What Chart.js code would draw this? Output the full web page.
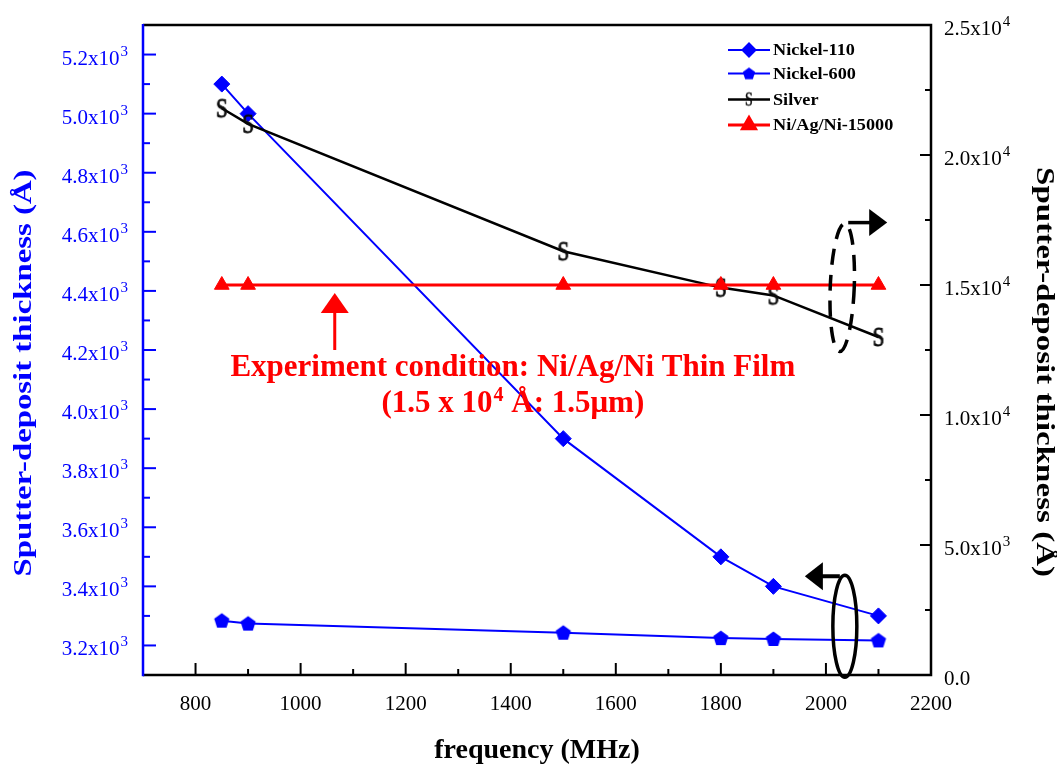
<!DOCTYPE html>
<html><head><meta charset="utf-8">
<script src="https://cdn.jsdelivr.net/npm/chart.js@4.4.1/dist/chart.umd.min.js"></script>
<style>html,body{margin:0;padding:0;background:#fff}#wrap{width:1057px;height:769px;position:relative}</style>
</head><body><div id="wrap"><canvas id="c"></canvas></div>
<script>
// ---- data ----
const frequencies = [850, 900, 1500, 1800, 1900, 2100];
const nickel110 = [5100, 5000, 3900, 3500, 3400, 3300];
const nickel600 = [3284, 3274, 3243, 3225, 3222, 3217];
const silver = [21800, 21200, 16300, 14900, 14600, 13000];
const niAgNi15000 = [15000, 15000, 15000, 15000, 15000, 15000];
const seriesNames = ['Nickel-110', 'Nickel-600', 'Silver', 'Ni/Ag/Ni-15000'];

const xTicks = [800, 1000, 1200, 1400, 1600, 1800, 2000, 2200];
const xTickLabels = ['800', '1000', '1200', '1400', '1600', '1800', '2000', '2200'];
const xMinorTicks = [900, 1100, 1300, 1500, 1700, 1900, 2100];
const leftTicks = [3200, 3400, 3600, 3800, 4000, 4200, 4400, 4600, 4800, 5000, 5200];
const leftTickLabels = ['3.2x10^3', '3.4x10^3', '3.6x10^3', '3.8x10^3', '4.0x10^3', '4.2x10^3', '4.4x10^3', '4.6x10^3', '4.8x10^3', '5.0x10^3', '5.2x10^3'];
const leftMinorTicks = [3300, 3500, 3700, 3900, 4100, 4300, 4500, 4700, 4900, 5100];
const rightTicks = [0, 5000, 10000, 15000, 20000, 25000];
const rightTickLabels = ['0.0', '5.0x10^3', '1.0x10^4', '1.5x10^4', '2.0x10^4', '2.5x10^4'];
const rightMinorTicks = [2500, 7500, 12500, 17500, 22500];
const xTitle = 'frequency (MHz)';
const yTitle = 'Sputter-deposit thickness (Å)';
const noteLine1 = 'Experiment condition: Ni/Ag/Ni Thin Film';
const noteLine2 = '(1.5 x 10^4^ Å: 1.5μm)';

const BLUE = '#0000ff', RED = '#ff0000', BLACK = '#000000';
const SERIF = '"Liberation Serif", "Times New Roman", serif';

// ---- marker images ----
function makeS(fontPx, sy, w, h, sw) {
  const c = document.createElement('canvas'); c.width = w; c.height = h;
  const g = c.getContext('2d');
  g.fillStyle = '#0a0a0a'; g.strokeStyle = '#0a0a0a'; g.lineWidth = sw;
  g.font = fontPx + 'px ' + SERIF;
  g.textAlign = 'center'; g.textBaseline = 'middle';
  g.translate(w / 2, h / 2); g.scale(1, sy); g.fillText('S', 0, 1); g.strokeText('S', 0, 1);
  return c;
}
function makePentagon(r, size) {
  const c = document.createElement('canvas'); c.width = size; c.height = size;
  const g = c.getContext('2d'); g.fillStyle = BLUE; g.beginPath();
  for (let i = 0; i < 5; i++) {
    const a = -Math.PI / 2 + i * 2 * Math.PI / 5;
    const px = size / 2 + r * Math.cos(a), py = size / 2 + 0.5 + r * Math.sin(a);
    i ? g.lineTo(px, py) : g.moveTo(px, py);
  }
  g.closePath(); g.fill(); return c;
}
const sMarker = makeS(21, 1.35, 18, 32, 0.7);
const sMarkerSmall = makeS(14, 1.3, 14, 22, 0.4);
const pentMarker = makePentagon(8, 20);
const pentMarkerSmall = makePentagon(6.5, 16);

const pts = arr => frequencies.map((f, i) => ({ x: f, y: arr[i] }));

const datasets = [
  { label: seriesNames[3], data: pts(niAgNi15000), yAxisID: 'yR', borderColor: RED, backgroundColor: RED,
    borderWidth: 3, pointStyle: 'triangle', pointRadius: 8.5, pointBorderWidth: 1, order: 1, legendStyle: 'triangle', legendRadius: 7.5 },
  { label: seriesNames[2], data: pts(silver), yAxisID: 'yR', borderColor: BLACK, backgroundColor: BLACK,
    borderWidth: 2.5, pointStyle: sMarker, pointRadius: 8, order: 2, legendStyle: sMarkerSmall },
  { label: seriesNames[0], data: pts(nickel110), yAxisID: 'yL', borderColor: BLUE, backgroundColor: BLUE,
    borderWidth: 2, pointStyle: 'rectRot', pointRadius: 8, pointBorderWidth: 1, order: 3, legendStyle: 'rectRot', legendRadius: 6.5 },
  { label: seriesNames[1], data: pts(nickel600), yAxisID: 'yL', borderColor: BLUE, backgroundColor: BLUE,
    borderWidth: 2, pointStyle: pentMarker, pointRadius: 8, order: 4, legendStyle: pentMarkerSmall }
];

function drawSegments(ctx, label, x, y, align, mainFont, supFont, supRise, color) {
  const parts = label.split('^');
  let total = 0; const widths = [];
  parts.forEach((p, i) => { ctx.font = i % 2 ? supFont : mainFont; const w = ctx.measureText(p).width + (i % 2 ? 1 : 0); widths.push(w); total += w; });
  let x0 = align === 'right' ? x - total : align === 'center' ? x - total / 2 : x;
  ctx.fillStyle = color; ctx.textAlign = 'left'; ctx.textBaseline = 'alphabetic';
  parts.forEach((p, i) => {
    ctx.font = i % 2 ? supFont : mainFont;
    ctx.fillText(p, x0 + (i % 2 ? 1 : 0), i % 2 ? y - supRise : y);
    x0 += widths[i];
  });
}
function stretchedText(ctx, text, cx, cy, rot, font, targetLen, color) {
  ctx.save(); ctx.translate(cx, cy); ctx.rotate(rot);
  ctx.font = font; const w = ctx.measureText(text).width;
  ctx.scale(targetLen / w, 1);
  ctx.fillStyle = color; ctx.textAlign = 'center'; ctx.textBaseline = 'middle';
  ctx.fillText(text, 0, 0); ctx.restore();
}
function tri(ctx, pts) { ctx.beginPath(); ctx.moveTo(pts[0][0], pts[0][1]); ctx.lineTo(pts[1][0], pts[1][1]); ctx.lineTo(pts[2][0], pts[2][1]); ctx.closePath(); ctx.fill(); }

const decor = {
  id: 'decor',
  afterDraw(chart) {
    const ctx = chart.ctx, a = chart.chartArea;
    const xs = chart.scales.x, yL = chart.scales.yL, yR = chart.scales.yR;
    ctx.save();
    // frame
    ctx.lineCap = 'butt';
    ctx.strokeStyle = BLACK; ctx.lineWidth = 2.5;
    ctx.beginPath(); ctx.moveTo(a.left, a.top); ctx.lineTo(a.right, a.top); ctx.lineTo(a.right, a.bottom); ctx.lineTo(a.left, a.bottom); ctx.stroke();
    ctx.strokeStyle = BLUE;
    ctx.beginPath(); ctx.moveTo(a.left, a.top - 1); ctx.lineTo(a.left, a.bottom + 1.2); ctx.stroke();
    // ticks
    ctx.lineWidth = 2;
    ctx.strokeStyle = BLUE;
    leftTicks.forEach(v => { const y = yL.getPixelForValue(v); ctx.beginPath(); ctx.moveTo(a.left, y); ctx.lineTo(a.left + 13, y); ctx.stroke(); });
    leftMinorTicks.forEach(v => { const y = yL.getPixelForValue(v); ctx.beginPath(); ctx.moveTo(a.left, y); ctx.lineTo(a.left + 7, y); ctx.stroke(); });
    ctx.strokeStyle = BLACK;
    xTicks.forEach(v => { const x = xs.getPixelForValue(v); ctx.beginPath(); ctx.moveTo(x, a.bottom); ctx.lineTo(x, a.bottom - 12); ctx.stroke(); });
    xMinorTicks.forEach(v => { const x = xs.getPixelForValue(v); ctx.beginPath(); ctx.moveTo(x, a.bottom); ctx.lineTo(x, a.bottom - 6); ctx.stroke(); });
    rightTicks.forEach(v => { const y = yR.getPixelForValue(v); ctx.beginPath(); ctx.moveTo(a.right, y); ctx.lineTo(a.right - 11, y); ctx.stroke(); });
    rightMinorTicks.forEach(v => { const y = yR.getPixelForValue(v); ctx.beginPath(); ctx.moveTo(a.right, y); ctx.lineTo(a.right - 6, y); ctx.stroke(); });
    // tick labels
    const mf = '21px ' + SERIF, sf = '15px ' + SERIF;
    leftTicks.forEach((v, i) => drawSegments(ctx, leftTickLabels[i], a.left - 15, yL.getPixelForValue(v) + 10, 'right', mf, sf, 9, BLUE));
    rightTicks.forEach((v, i) => drawSegments(ctx, rightTickLabels[i], a.right + 13, yR.getPixelForValue(v) + 10, 'left', mf, sf, 9, BLACK));
    xTicks.forEach((v, i) => drawSegments(ctx, xTickLabels[i], xs.getPixelForValue(v), a.bottom + 35, 'center', mf, sf, 9, BLACK));
    // axis titles
    const cy = (a.top + a.bottom) / 2 + 23;
    stretchedText(ctx, yTitle, 24, cy, -Math.PI / 2, 'bold 26px ' + SERIF, 407, BLUE);
    stretchedText(ctx, yTitle, 1044, cy - 1, Math.PI / 2, 'bold 26px ' + SERIF, 410, BLACK);
    ctx.font = 'bold 28px ' + SERIF; ctx.fillStyle = BLACK; ctx.textAlign = 'center'; ctx.textBaseline = 'middle';
    ctx.fillText(xTitle, (a.left + a.right) / 2, 751);
    // legend
    const rows = [50, 73.5, 99.5, 125];
    const legendOrder = [2, 3, 1, 0];
    legendOrder.forEach((di, r) => {
      const ds = datasets[di], y = rows[r];
      ctx.strokeStyle = ds.borderColor; ctx.lineWidth = ds.borderWidth;
      ctx.beginPath(); ctx.moveTo(728, y); ctx.lineTo(770, y); ctx.stroke();
      if (typeof ds.legendStyle === 'string') {
        ctx.fillStyle = ds.backgroundColor; ctx.strokeStyle = ds.borderColor;
        Chart.helpers.drawPoint(ctx, { pointStyle: ds.legendStyle, radius: ds.legendRadius, rotation: 0, borderWidth: 1 }, 749, y);
      } else {
        const im = ds.legendStyle; ctx.drawImage(im, 749 - im.width / 2, y - im.height / 2);
      }
      ctx.save();
      ctx.translate(773, y + 1); ctx.scale(1.07, 1);
      ctx.fillStyle = BLACK; ctx.font = 'bold 17px ' + SERIF; ctx.textAlign = 'left'; ctx.textBaseline = 'middle';
      ctx.fillText(ds.label, 0, 0);
      ctx.restore();
    });
    // red note + arrow
    const lineY = yR.getPixelForValue(15000);
    const ax = xs.getPixelForValue(1065);
    ctx.fillStyle = RED; ctx.strokeStyle = RED;
    tri(ctx, [[ax, lineY + 8], [ax - 14, lineY + 28], [ax + 14, lineY + 28]]);
    ctx.lineWidth = 3; ctx.beginPath(); ctx.moveTo(ax, lineY + 26); ctx.lineTo(ax, lineY + 65); ctx.stroke();
    const tx = xs.getPixelForValue(1404);
    ctx.font = 'bold 31px ' + SERIF; ctx.textAlign = 'center'; ctx.textBaseline = 'alphabetic';
    ctx.fillText(noteLine1, tx, lineY + 91);
    drawSegments(ctx, noteLine2, tx, lineY + 127, 'center', 'bold 31px ' + SERIF, 'bold 20px ' + SERIF, 11, RED);
    // dashed ellipse (right axis group)
    ctx.strokeStyle = BLACK; ctx.fillStyle = BLACK;
    const e1x = xs.getPixelForValue(2031), e1y = yR.getPixelForValue(14900);
    ctx.lineWidth = 3.5; ctx.setLineDash([16, 10]);
    ctx.beginPath(); ctx.ellipse(e1x, e1y, 12, 64, 0.04, 0, Math.PI * 2); ctx.stroke();
    ctx.setLineDash([]);
    const ar1y = e1y - 65;
    ctx.beginPath(); ctx.moveTo(e1x + 6, ar1y); ctx.lineTo(e1x + 28, ar1y); ctx.stroke();
    tri(ctx, [[e1x + 45, ar1y], [e1x + 27, ar1y - 13.5], [e1x + 27, ar1y + 13.5]]);
    // solid ellipse (left axis group)
    const e2x = xs.getPixelForValue(2036), e2y = yL.getPixelForValue(3265);
    ctx.lineWidth = 3.5;
    ctx.beginPath(); ctx.ellipse(e2x, e2y, 12, 51, 0, 0, Math.PI * 2); ctx.stroke();
    const ar2y = e2y - 50;
    ctx.lineWidth = 4;
    ctx.beginPath(); ctx.moveTo(e2x - 5, ar2y); ctx.lineTo(e2x - 24, ar2y); ctx.stroke();
    tri(ctx, [[e2x - 40, ar2y], [e2x - 22, ar2y - 14], [e2x - 22, ar2y + 14]]);
    ctx.restore();
  }
};

const hiddenAxis = (extra) => Object.assign({
  type: 'linear', grid: { display: false }, border: { display: false }, ticks: { display: false }
}, extra);

new Chart(document.getElementById('c'), {
  type: 'line',
  data: { datasets },
  options: {
    responsive: true, maintainAspectRatio: false, animation: false, devicePixelRatio: 1,
    layout: { padding: { top: 25, left: 0, right: 0, bottom: 0 } },
    plugins: { legend: { display: false }, tooltip: { enabled: false } },
    elements: { line: { tension: 0 } },
    scales: {
      x: hiddenAxis({ position: 'bottom', min: 700, max: 2200,
        afterBuildTicks: s => { s.ticks = xTicks.map(v => ({ value: v })); }, afterFit: s => { s.height = 94; } }),
      yL: hiddenAxis({ position: 'left', min: 3100, max: 5300,
        afterBuildTicks: s => { s.ticks = leftTicks.map(v => ({ value: v })); }, afterFit: s => { s.width = 143; } }),
      yR: hiddenAxis({ position: 'right', min: 0, max: 25000,
        afterBuildTicks: s => { s.ticks = rightTicks.map(v => ({ value: v })); }, afterFit: s => { s.width = 126; } })
    }
  },
  plugins: [decor]
});
</script></body></html>
